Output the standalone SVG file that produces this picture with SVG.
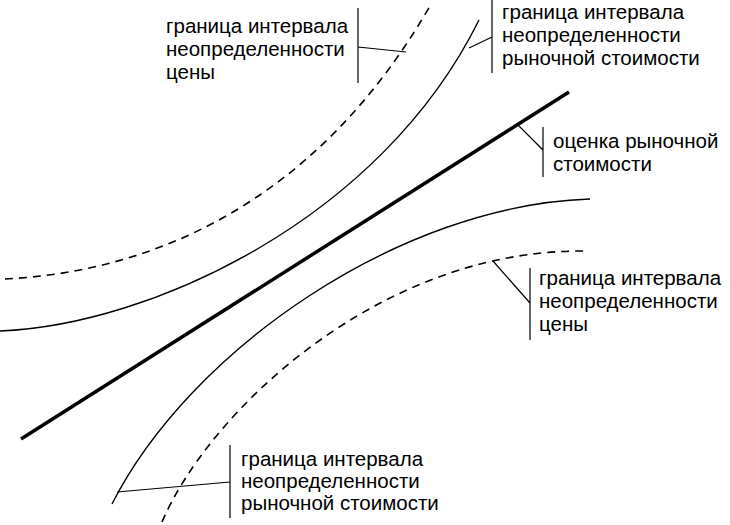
<svg xmlns="http://www.w3.org/2000/svg" width="730" height="525" viewBox="0 0 730 525">
<style>
.bg{fill:#fff}
.c{fill:none;stroke:#000;stroke-width:1.4}
.d{fill:none;stroke:#000;stroke-width:1.6;stroke-dasharray:8 6}
.t{fill:none;stroke:#000;stroke-width:3.5}
.l{fill:none;stroke:#000;stroke-width:1.2}
text{font-family:"Liberation Sans",Arial,sans-serif;font-size:20.5px;fill:#000}
</style>
<rect class="bg" width="730" height="525"/>
<g id="curves">
<path id="upper-dashed" class="d" d="M5,279 C150,272 315,205 430,6"/>
<path id="upper-solid" class="c" d="M0,331 C150,325 380,220 479,20"/>
<path id="estimate" class="t" d="M21,439 L569,92"/>
<path id="lower-solid" class="c" d="M112,504 C190,350 400,205 590,199"/>
<path id="lower-dashed" class="d" d="M162,522 C210,410 380,250 583,251"/>
</g>
<g id="connectors">
<path class="l" d="M358,8 V83 M358,47 L406,52"/>
<path class="l" d="M492,0 V73 M492,37 L469,48"/>
<path class="l" d="M543,127 V177 M543,150 L518,125"/>
<path class="l" d="M530,268 V340 M530,303 L493,261"/>
<path class="l" d="M230,445 V518 M230,482 L117,492"/>
</g>
<g id="label-price-top">
<text x="166" y="33">граница интервала</text>
<text x="166" y="56">неопределенности</text>
<text x="166" y="79">цены</text>
</g>
<g id="label-market-top">
<text x="502" y="19">граница интервала</text>
<text x="502" y="42">неопределенности</text>
<text x="502" y="65">рыночной стоимости</text>
</g>
<g id="label-estimate">
<text x="553" y="148">оценка рыночной</text>
<text x="553" y="171">стоимости</text>
</g>
<g id="label-price-bottom">
<text x="539" y="285">граница интервала</text>
<text x="539" y="308">неопределенности</text>
<text x="539" y="331">цены</text>
</g>
<g id="label-market-bottom">
<text x="241" y="466">граница интервала</text>
<text x="241" y="488">неопределенности</text>
<text x="241" y="510">рыночной стоимости</text>
</g>
</svg>
